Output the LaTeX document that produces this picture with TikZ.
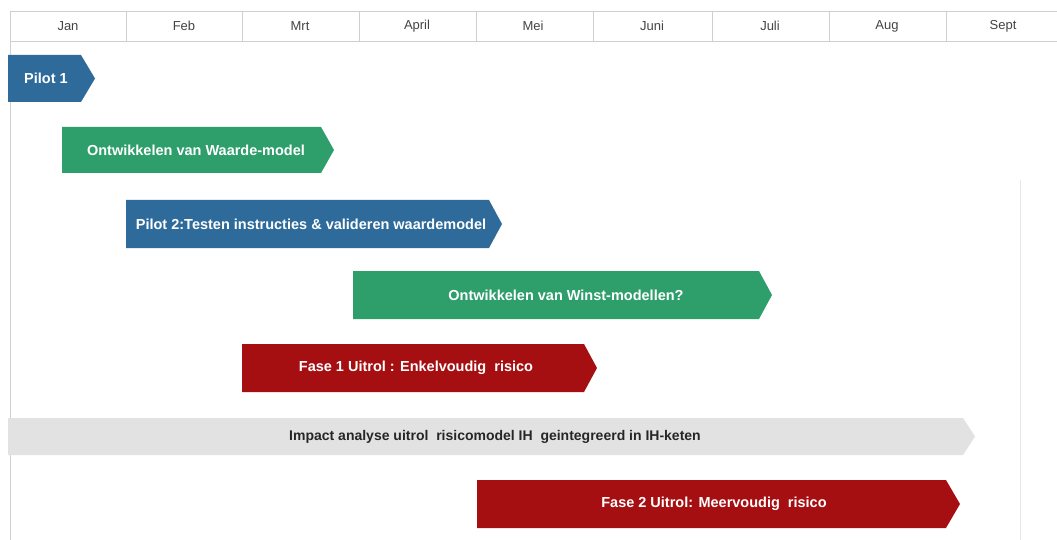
\documentclass[tikz,border=0pt]{standalone}
\usepackage{fontspec}
\setmainfont{Liberation Sans}
\definecolor{gblue}{HTML}{2F6B9A}
\definecolor{ggreen}{HTML}{2E9E6B}
\definecolor{gred}{HTML}{A50F12}
\definecolor{ggray}{HTML}{E2E2E2}
\definecolor{gline}{HTML}{CFCFCF}
\definecolor{gtext}{HTML}{444444}
\tikzset{
  month/.style={font=\fontsize{13}{15}\selectfont, text=gtext, anchor=center},
  bartext/.style={font=\bfseries\fontsize{14.5}{17}\selectfont, text=white, anchor=center, inner sep=0pt},
  graytext/.style={font=\bfseries\fontsize{14}{17}\selectfont, text=black!85, anchor=center, inner sep=0pt},
  grid/.style={draw=gline, line width=0.8pt},
}
\begin{document}
\begin{tikzpicture}[x=1pt,y=-1pt]
\useasboundingbox (0,0) rectangle (1057,540);
\fill[white] (0,0) rectangle (1057,540);
% frame lines
\draw[grid] (10,11) -- (1057,11);
\draw[grid] (10,41) -- (1057,41);
\draw[grid] (10,11) -- (10,540);
\draw[draw=gline!50, line width=0.6pt] (1020,180) -- (1020,540);
\foreach \x in {126,242,359,476,593,712,829,946} \draw[grid] (\x,11) -- (\x,41);
% months
\node[month] (m1) at (68,26) {Jan};
\node[month] (m2) at (184,26) {Feb};
\node[month] (m3) at (300,26) {Mrt};
\node[month] (m4) at (417,26) {April};
\node[month] (m5) at (533,26) {Mei};
\node[month] (m6) at (652,26) {Juni};
\node[month] (m7) at (770,26) {Juli};
\node[month] (m8) at (887,26) {Aug};
\node[month] (m9) at (1003,26) {Sept};
% bars
\fill[gblue] (8,55) -- (81,55) -- (95,78.5) -- (81,102) -- (8,102) -- cycle;
\node[bartext] (b1) at (46,78.5) {Pilot 1};
\fill[ggreen] (62,127) -- (321,127) -- (334,150) -- (321,173) -- (62,173) -- cycle;
\node[bartext] (b2) at (196,150) {Ontwikkelen van Waarde-model};
\fill[gblue] (126,200) -- (489,200) -- (502,224) -- (489,248) -- (126,248) -- cycle;
\node[bartext] (b3) at (311,224) {Pilot 2:Testen instructies \& valideren waardemodel};
\fill[ggreen] (353,271) -- (759,271) -- (772,295) -- (759,319) -- (353,319) -- cycle;
\node[bartext] (b4) at (566,295) {Ontwikkelen van Winst-modellen?};
\fill[gred] (242,344) -- (584,344) -- (597,368) -- (584,392) -- (242,392) -- cycle;
\node[bartext] (b5) at (416,368) {Fase 1 Uitrol : Enkelvoudig\ \ risico};
\fill[ggray] (8,418) -- (963,418) -- (975,436.5) -- (963,455) -- (8,455) -- cycle;
\node[graytext] (b6) at (495,436.5) {Impact analyse uitrol\ \ risicomodel IH\ \ geintegreerd in IH-keten};
\fill[gred] (477,480) -- (946,480) -- (960,504) -- (946,528) -- (477,528) -- cycle;
\node[bartext] (b7) at (714,504) {Fase 2 Uitrol: Meervoudig\ \ risico};
\end{tikzpicture}
\end{document}
